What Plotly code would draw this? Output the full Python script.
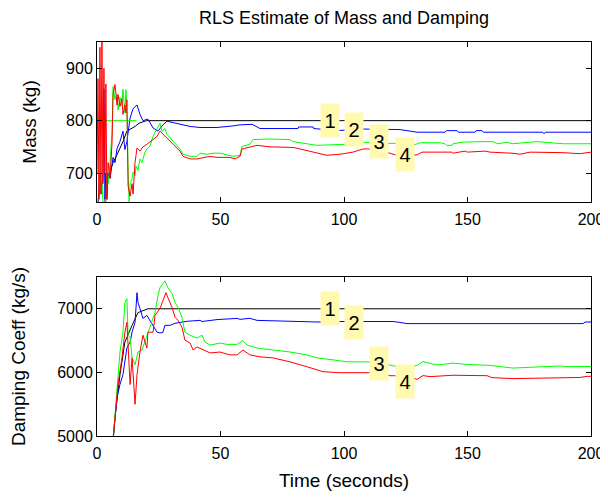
import plotly.graph_objects as go
import numpy as np

# ---------------- data ----------------
# Mass (kg) estimates
mass_black_t = [2.8, 3.2, 4.0, 5.3, 6.5, 8.1, 9.3, 10.5, 12.1, 13.4, 15.4, 17.0, 18.6, 20.0, 200]
mass_black_v = [620, 650, 690, 704, 720, 735, 747, 760, 780, 783, 789, 795, 798, 800, 800]

mass_blue_t = [0.4, 1.2, 1.6, 2.4, 2.8, 3.2, 3.6, 4.0, 4.5, 5.3, 6.5, 7.3, 8.1, 9.3, 10.5, 11.3,
               12.1, 13.4, 14.6, 16.2, 17.4, 18.6, 20.6, 22.7, 24.7, 26.3, 28.3, 32.4, 37.7,
               41.7, 48.6, 55.1, 57.9, 62.8, 66.0, 81.4, 81.6, 87.5, 87.7, 97.2, 107.7, 122.7,
               129.6, 140.9, 141.5, 145.8, 146.3, 153.0, 153.5, 155.9, 156.4, 180.5, 181.0,
               181.5, 200]
mass_blue_v = [640, 700, 660, 690, 860, 650, 700, 650, 700, 690, 730, 720, 747, 760, 780, 745,
               760, 805, 823, 830, 812, 800, 803, 786, 780, 790, 799, 795, 789,
               787, 787, 790, 792, 793, 785, 785, 788, 788, 785, 781, 784, 783,
               778, 778, 781, 781, 778, 778, 781, 781, 778, 778, 775,
               778, 778]

mass_green_t = [0, 16, None,
                0.8, 1.2, 1.6, 2.0, 2.4, 3.6, 4.0, 4.5, 5.3, 6.1, 6.5, 7.3, 8.1, 8.5, 9.3, 10.1,
                10.5, 11.3, 11.7, 12.1, 12.6, 13.0, 13.4, 14.2, 14.6, 15.4, 15.8, 16.6, 17.4,
                18.2, 19.4, 20.2, 21.5, 22.3, 23.5, 24.3, 25.5, 26.3, 27.5, 28.3, 30.8, 33.6,
                34.8, 37.7, 40.5, 41.7, 44.5, 47.0, 49.8, 55.1, 57.9, 58.7, 61.9, 63.2, 70.0,
                78.1, 79.4, 89.1, 101.2, 107.7, 110.5, 114.6, 119.8, 125.5, 127.9, 130.8,
                138.9, 140.9, 141.5, 143.7, 144.1, 148.2, 155.1, 160.3, 162.3, 166.0, 168.0,
                178.1, 188.7, 200]
mass_green_v = [800, 800, None,
                650, 700, 660, 680, 645, 645, 700, 680, 720, 780, 865, 840, 850, 820, 845, 830,
                860, 815, 859, 830, 700, 645, 680, 689, 702, 695, 713, 705, 727,
                720, 740, 746, 752, 765, 778, 785, 795, 780, 785, 774, 761, 746,
                736, 732, 732, 738, 736, 738, 738, 732, 734, 751, 755, 764, 765,
                764, 760, 753, 755, 759, 758, 755, 757, 753, 753, 758,
                758, 756, 753, 753, 756, 759, 760, 760, 756, 759, 756,
                760, 756, 756]

mass_red_t = [0, 0.4, 0.8, 1.2, 1.6, 2.0, 2.4, 2.8, 3.2, 3.6, 4.0, 4.5, 5.3, 6.1, 6.5, 7.3, 8.1,
              8.5, 9.3, 10.1, 10.5, 11.3, 11.7, 12.1, 12.6, 13.4, 14.2, 14.6, 15.4, 16.2, 17.4,
              18.6, 20.2, 21.5, 22.7, 24.3, 25.5, 26.7, 28.3, 30.8, 33.6, 34.8, 37.7, 40.5,
              42.9, 45.8, 48.6, 53.8, 55.9, 57.9, 58.7, 61.9, 64.8, 70.0, 79.4, 82.2, 93.1,
              98.4, 103.6, 107.7, 111.7, 115.8, 122.7, 129.6, 131.6, 143.7, 144.1, 149.0,
              150.0, 157.1, 159.1, 168.0, 171.3, 175.3, 188.7, 195.5, 198.8, 200]
mass_red_v = [700, 880, 650, 940, 660, 950, 680, 900, 700, 870, 650, 720, 690, 760, 850, 869, 830,
              850, 827, 842, 812, 830, 815, 840, 675, 656, 680, 660, 720, 748, 742,
              750, 755, 760, 765, 770, 780, 775, 767, 755, 742, 732, 727, 727,
              729, 732, 730, 730, 727, 732, 746, 749, 753, 750, 749, 746, 734,
              736, 740, 746, 746, 742, 732, 735, 740, 740, 738, 742,
              740, 742, 740, 738, 736, 740, 739, 737, 740, 740]

# Damping coefficient (kg/s) estimates
damp_black_t = [6.5, 7.3, 9.3, 11.3, 14.2, 16.6, 20.6, 200]
damp_black_v = [4900, 5297, 5964, 6477, 6740, 6940, 7000, 7000]

damp_blue_t = [6.5, 7.3, 8.1, 9.3, 10.5, 12.1, 13.4, 14.2, 15.4, 16.2, 16.6, 17.4, 18.6, 20.2,
               21.5, 22.7, 24.3, 25.5, 26.7, 27.5, 29.6, 31.6, 33.6, 36.4, 41.7, 42.5, 48.6,
               56.7, 57.9, 61.9, 64.8, 89.1, 98.4, 119.8, 122.7, 125.5, 196.8, 197.6, 200]
damp_blue_v = [4950, 5234, 5607, 5809, 5964, 6383, 6477, 6632, 6787, 7253, 7098, 7005, 6849, 6896,
               6818, 6740, 6632, 6620, 6630, 6740, 6740, 6772, 6787, 6803, 6818, 6800, 6830,
               6849, 6834, 6850, 6818, 6792, 6800, 6800, 6785, 6767, 6767, 6792, 6792]

damp_green_t = [6.5, 8.1, 9.3, 10.5, 11.3, 12.1, 12.6, 13.4, 14.2, 15.4, 16.6, 18.2, 19.4, 20.6,
                22.3, 23.5, 24.7, 25.5, 27.5, 28.7, 30.4, 31.6, 32.8, 34.4, 35.6, 37.7, 40.5,
                42.5, 43.7, 45.8, 49.8, 52.6, 56.7, 59.1, 60.7, 63.2, 64.8, 71.3, 78.1, 85.0,
                89.1, 95.5, 101.2, 109.3, 114.6, 119.8, 126.7, 129.6, 132.0, 136.0, 138.9,
                144.1, 149.8, 159.1, 168.4, 178.1, 187.5, 190.3, 200]
damp_green_v = [4950, 5700, 6321, 6632, 7098, 7160, 6585, 6550, 6228, 6120, 6321, 6350, 6477, 6632,
                6787, 6943, 7207, 7331, 7440, 7331, 7238, 7098, 7020, 6865, 6632, 6585, 6539,
                6585, 6477, 6430, 6461, 6440, 6440, 6500, 6430, 6399, 6383, 6352, 6321, 6275,
                6228, 6197, 6166, 6166, 6150, 6104, 6080, 6110, 6170, 6130, 6120,
                6146, 6125, 6110, 6068, 6085, 6100, 6090, 6093]

damp_red_t = [6.5, 7.3, 8.5, 10.1, 11.3, 12.1, 12.6, 13.4, 14.2, 14.6, 15.4, 16.2, 17.4, 18.6,
              20.2, 20.6, 22.7, 23.5, 25.5, 26.7, 27.9, 28.7, 30.4, 31.6, 32.8, 34.4, 35.6,
              37.7, 38.9, 40.5, 42.9, 45.8, 49.8, 53.8, 56.7, 59.1, 61.9, 66.0, 71.3, 78.1,
              85.0, 91.5, 98.4, 110.5, 114.6, 118.6, 125.5, 129.6, 132.0, 134.8, 144.1,
              157.9, 159.9, 168.4, 178.1, 187.5, 195.5, 198.4, 200]
damp_red_v = [4950, 5343, 5809, 6228, 6632, 6787, 6321, 5809, 6228, 5964, 5498, 5964, 6321, 6585,
              6383, 6632, 6632, 6896, 7005, 7129, 7253, 7175, 7020, 6865, 6818, 6710, 6508,
              6461, 6352, 6399, 6352, 6306, 6320, 6275, 6275, 6352, 6275, 6244, 6228, 6166,
              6089, 6011, 5995, 5990, 5995, 5948, 5945, 5890, 5950, 5933, 5955,
              5948, 5918, 5902, 5910, 5925, 5920, 5938, 5938]

# Curve labels
label_text = ["1", "2", "3", "4"]
label_t = [94.5, 104.0, 114.0, 124.5]
label_mass = [800, 783, 760, 735]
label_damp = [7000, 6787, 6135, 5863]

# ---------------- figure ----------------
FONT = "Arial, Liberation Sans, sans-serif"
fig = go.Figure()

def add(x, y, color, ax):
    xa, ya = ("x", "y") if ax == 1 else ("x2", "y2")
    fig.add_trace(go.Scatter(x=x, y=y, mode="lines", line=dict(color=color, width=1),
                             xaxis=xa, yaxis=ya, showlegend=False, hoverinfo="skip",
                             connectgaps=False))

add(mass_black_t, mass_black_v, "#000000", 1)
add(mass_blue_t, mass_blue_v, "#0000FF", 1)
add(mass_green_t, mass_green_v, "#00FF00", 1)
add(mass_red_t, mass_red_v, "#FF0000", 1)
add(damp_black_t, damp_black_v, "#000000", 2)
add(damp_blue_t, damp_blue_v, "#0000FF", 2)
add(damp_green_t, damp_green_v, "#00FF00", 2)
add(damp_red_t, damp_red_v, "#FF0000", 2)

ann = []
for ref, vals in (("1", label_mass), ("2", label_damp)):
    for txt, t, v in zip(label_text, label_t, vals):
        ann.append(dict(text=txt, x=t, y=v, xref="x" if ref == "1" else "x2",
                        yref="y" if ref == "1" else "y2", showarrow=False,
                        font=dict(family=FONT, size=20, color="black"),
                        bgcolor="#FFFAB0", width=14, height=29, borderpad=2,
                        xanchor="center", yanchor="middle"))

axis_common = dict(showline=True, linecolor="black", linewidth=1, mirror="ticks",
                   ticks="inside", ticklen=5, tickcolor="black", showgrid=False,
                   zeroline=False, automargin=False,
                   tickfont=dict(family=FONT, size=16, color="black"))

# page body adds an 8px offset; the figure is sized so the page fills 608x498
W, H = 600, 490
fig.update_layout(
    width=W, height=H,
    margin=dict(l=89, r=17, t=34, b=62),
    paper_bgcolor="white", plot_bgcolor="white",
    title=dict(text="RLS Estimate of Mass and Damping", x=0.5, xref="paper",
               y=1 - 10 / H, yref="container", yanchor="middle", xanchor="center",
               font=dict(family=FONT, size=18, color="black")),
    xaxis=dict(domain=[0, 1], range=[0, 200], tickvals=[0, 50, 100, 150, 200],
               anchor="y", ticklabelstandoff=3, **axis_common),
    yaxis=dict(domain=[0.594, 1], range=[645, 950], tickvals=[700, 800, 900],
               anchor="x",
               title=dict(text="Mass (kg)", standoff=24,
                          font=dict(family=FONT, size=19, color="black")),
               **axis_common),
    xaxis2=dict(domain=[0, 1], range=[0, 200], tickvals=[0, 50, 100, 150, 200],
                anchor="y2", ticklabelstandoff=3,
                title=dict(text="Time (seconds)", standoff=12,
                           font=dict(family=FONT, size=19, color="black")),
                **axis_common),
    yaxis2=dict(domain=[0, 0.4036], range=[5000, 7500], tickvals=[5000, 6000, 7000],
                anchor="x2",
                title=dict(text="Damping Coeff (kg/s)", standoff=27,
                           font=dict(family=FONT, size=19, color="black")),
                **axis_common),
    annotations=ann,
)

fig.write_html("out.html")
